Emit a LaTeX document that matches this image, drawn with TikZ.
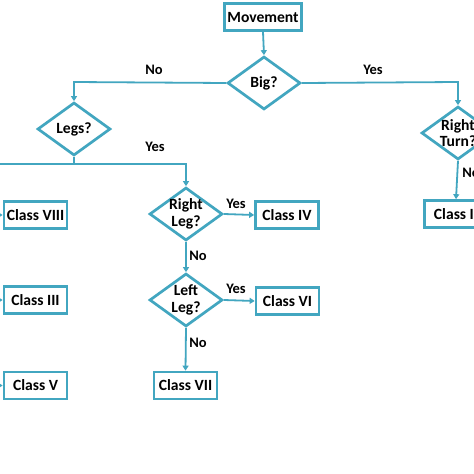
\documentclass[tikz,border=0pt]{standalone}
\usepackage{fontspec}
\setmainfont{Carlito}
\usetikzlibrary{shapes.geometric,arrows.meta}
\definecolor{flow}{RGB}{66,166,192}
\tikzset{
  box/.style={draw=flow, line width=2.7pt, minimum width=63pt, minimum height=27pt, inner sep=0pt, font=\fontsize{15.6}{16}\selectfont\bfseries, fill=white},
  dec/.style={draw=flow, line width=2.7pt, shape=diamond, aspect=1.36, inner sep=-2.5pt, minimum width=73pt, minimum height=53pt, align=center, font=\fontsize{15.6}{16.5}\selectfont\bfseries},
  conn/.style={draw=flow, line width=1.8pt},
  arr/.style={conn, -{Triangle[width=6pt,length=5pt]}},
  lab/.style={font=\fontsize{14.5}{15}\selectfont\bfseries, inner sep=0pt}
}
\begin{document}
\begin{tikzpicture}[x=1pt,y=-1pt]
\useasboundingbox (0,0) rectangle (474,474);
\clip (0,0) rectangle (474,474);
\fill[white] (0,0) rectangle (474,474);
% nodes
\node[box, minimum width=77pt] (move) at (263,17) {Movement};
\node[dec] (big) at (264,83) {Big?};
\node[dec] (legs) at (74,129) {Legs?};
\node[dec] (rturn) at (458,133) {Right\\Turn?};
\node[dec] (rleg) at (186,214) {Right\\Leg?};
\node[dec] (lleg) at (186,300) {Left\\Leg?};
\node[box] (c8) at (35.5,215) {Class VIII};
\node[box] (c3) at (35.5,300) {Class III};
\node[box] (c5) at (35.5,385.5) {Class V};
\node[box] (c7) at (185.5,385.5) {Class VII};
\node[box] (c4) at (287,215) {Class IV};
\node[box] (c6) at (287.5,301) {Class VI};
\node[box] (c2) at (456,214) {Class II};
% coordinates
\coordinate (nl) at (74,82);
\coordinate (yr) at (458,82);
\coordinate (lj) at (74,164);
\coordinate (lfar) at (-30,164);
\coordinate (rj) at (186,164);
\coordinate (e8) at (-30,215);
\coordinate (e3) at (-30,300);
\coordinate (e5) at (-30,385.5);
% connectors
\draw[arr] (move.south) -- (big.north);
\draw[arr] (big.west) -- (nl) -- (legs.north);
\draw[arr] (big.east) -- (yr) -- (rturn.north);
\draw[conn] (legs.south) -- (lj);
\draw[arr] (lfar) -- (rj) -- (rleg.north);
\draw[arr] (e8) -- (c8.west);
\draw[arr] (e3) -- (c3.west);
\draw[arr] (e5) -- (c5.west);
\draw[arr] (rleg.east) -- (c4.west);
\draw[arr] (rleg.south) -- (lleg.north);
\draw[arr] (lleg.east) -- (c6.west);
\draw[arr] (lleg.south) -- (c7.north);
\draw[arr] (rturn.south) -- (c2.north);
% labels
\node[lab] (lno1) at (154,70) {No};
\node[lab] (lyes1) at (373,70) {Yes};
\node[lab] (lyes2) at (155,147) {Yes};
\node[lab] (lyes3) at (236,204) {Yes};
\node[lab] (lno2) at (198,256) {No};
\node[lab] (lyes4) at (236,289) {Yes};
\node[lab] (lno3) at (198,343) {No};
\node[lab] (lno4) at (471,173) {No};
\end{tikzpicture}
\end{document}
